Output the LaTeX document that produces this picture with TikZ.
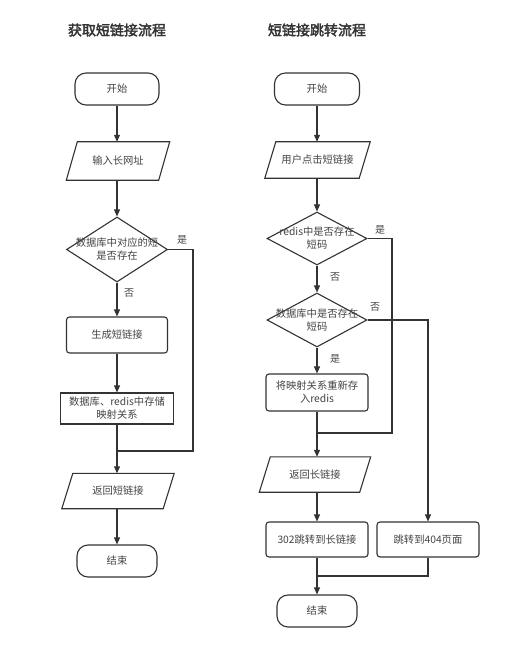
\documentclass[tikz,border=0pt]{standalone}
\usepackage{fontspec}
\setmainfont{Noto Sans CJK SC}
\newfontfamily\titlefont{Noto Sans CJK SC}[FakeBold=2.5]
\usetikzlibrary{shapes.geometric,arrows.meta,calc}
\definecolor{ln}{HTML}{333333}
\definecolor{tx}{HTML}{444444}
\begin{document}
\begin{tikzpicture}[x=1pt,y=1pt,
  every node/.style={font=\fontsize{10.3}{13}\selectfont, text=tx},
  base/.style={draw=ln, line width=1.1pt, inner sep=0pt, align=center},
  term/.style={base, rounded corners=11pt, minimum width=84pt, minimum height=32pt},
  proc/.style={base, rounded corners=3pt, minimum width=102pt, minimum height=36pt},
  sq/.style={base, minimum width=113pt, minimum height=31pt},
  io/.style={inner sep=0pt, align=center, minimum width=104pt, minimum height=37pt},
  dia/.style={base, diamond, minimum width=101pt, minimum height=65pt},
  lab/.style={inner sep=0pt, align=center},
  conn/.style={draw=ln, line width=1.1pt},
  arr/.style={conn, -{Triangle[length=7pt,width=6pt]}},
  ttl/.style={font=\titlefont\fontsize{14}{16}\selectfont, text=ln},
  yn/.style={inner sep=0pt, font=\fontsize{10}{12}\selectfont}
]
\fill[white] (0,0) rectangle (518,-655);
\useasboundingbox (0,0) rectangle (518,-655);
\def\sl{11}

% ---------- left flow ----------
\node[ttl] (T1) at (117,-30) {获取短链接流程};
\node[term] (L1) at (117,-89) {开始};
\node[io, minimum width=103pt, minimum height=38pt] (L2) at (118,-161) {输入长网址};
\node[dia, minimum width=101pt, minimum height=65pt] (L3) at (117,-249.5) {};
\node[lab] (L3t) at (117,-249.5) {数据库中对应的短\\是否存在};
\node[proc, minimum width=101pt] (L4) at (117,-335) {生成短链接};
\node[sq] (L5) at (117,-408.5) {数据库、redis中存储\\映射关系};
\node[io, minimum width=112pt, minimum height=35pt] (L6) at (118,-491) {返回短链接};
\node[term, minimum width=80pt] (L7) at (117,-561) {结束};
\node[yn] (Ly) at (182,-240) {是};
\node[yn] (Ln) at (129,-293) {否};
\coordinate (cL) at (193,-451);
\coordinate (jL) at (117,-451);

% ---------- right flow ----------
\node[ttl] (T2) at (317,-30) {短链接跳转流程};
\node[term, minimum width=85pt] (R1) at (317,-89) {开始};
\node[io, minimum width=105pt, minimum height=36pt] (R2) at (317.5,-160) {用户点击短链接};
\node[dia, minimum width=100pt, minimum height=53pt] (R3) at (317,-238.5) {};
\node[lab] (R3t) at (317,-238.5) {redis中是否存在\\短码};
\node[dia, minimum width=100pt, minimum height=54pt] (R4) at (317,-320) {};
\node[lab] (R4t) at (317,-320) {数据库中是否存在\\短码};
\node[proc, minimum height=37pt] (R5) at (317,-392.5) {将映射关系重新存\\入redis};
\node[io, minimum width=111pt, minimum height=35pt] (R6) at (315,-474.5) {返回长链接};
\node[proc, minimum height=35pt] (R7) at (317,-539.5) {302跳转到长链接};
\node[proc, minimum height=35pt] (R8) at (428,-539.5) {跳转到404页面};
\node[term, minimum width=80pt] (R9) at (317,-611) {结束};
\node[yn] (R3y) at (380,-230) {是};
\node[yn] (R3n) at (335,-277) {否};
\node[yn] (R4n) at (375,-307) {否};
\node[yn] (R4y) at (335,-359) {是};
\coordinate (cR) at (392,-433);
\coordinate (jR) at (317,-433);
\coordinate (jR2) at (317,-576);

% parallelogram outlines
\foreach \n in {L2,L6,R2,R6}{
  \draw[conn, line join=miter] (\n.south west) -- ($(\n.north west)+(\sl,0)$) -- (\n.north east) -- ($(\n.south east)+(-\sl,0)$) -- cycle;
}

% connectors left
\draw[arr] (L1.south) -- (L1.south |- L2.north);
\draw[arr] (L1.south |- L2.south) -- (L3.north);
\draw[arr] (L3.south) -- (L4.north);
\draw[arr] (L4.south) -- (L5.north);
\draw[arr] (L5.south) -- (L5.south |- L6.north);
\draw[arr] (L7.north |- L6.south) -- (L7.north);
\draw[conn] (L3.east) -| (cL) -- (jL);

% connectors right
\draw[arr] (R1.south) -- (R1.south |- R2.north);
\draw[arr] (R3.north |- R2.south) -- (R3.north);
\draw[arr] (R3.south) -- (R4.north);
\draw[arr] (R4.south) -- (R5.north);
\draw[arr] (R5.south) -- (R5.south |- R6.north);
\draw[arr] (R7.north |- R6.south) -- (R7.north);
\draw[arr] (R7.south) -- (R9.north);
\draw[conn] (R3.east) -| (cR) -- (jR);
\draw[arr] (R4.east) -| (R8.north);
\draw[conn] (R8.south) |- (jR2);
\end{tikzpicture}
\end{document}
